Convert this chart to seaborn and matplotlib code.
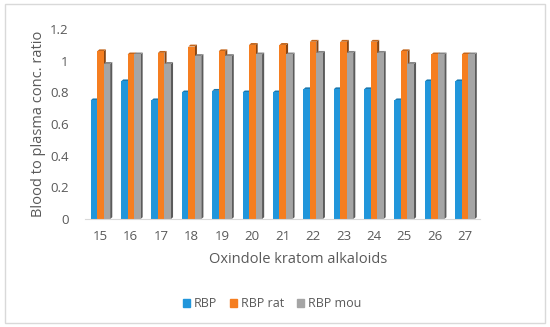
import numpy as np
import pandas as pd
import matplotlib
matplotlib.use("Agg")
import matplotlib.pyplot as plt
import matplotlib.colors as mcolors
from matplotlib.patches import Polygon
import seaborn as sns

# values
compounds = ["15", "16", "17", "18", "19", "20", "21", "22", "23", "24", "25", "26", "27"]
rbp = [0.75, 0.87, 0.75, 0.80, 0.81, 0.80, 0.80, 0.82, 0.82, 0.82, 0.75, 0.87, 0.87]
rbp_rat = [1.06, 1.04, 1.05, 1.09, 1.06, 1.10, 1.10, 1.12, 1.12, 1.12, 1.06, 1.04, 1.04]
rbp_mou = [0.98, 1.04, 0.98, 1.03, 1.03, 1.04, 1.04, 1.05, 1.05, 1.05, 0.98, 1.04, 1.04]
series = ["RBP", "RBP rat", "RBP mou"]
colors = ["#2196DB", "#F57E20", "#A5A5A5"]

df = pd.DataFrame({"compound": compounds * 3,
                   "series": np.repeat(series, len(compounds)),
                   "ratio": rbp + rbp_rat + rbp_mou})

sns.set_style("white")
plt.rcParams["font.family"] = ["Open Sans", "DejaVu Sans"]
txt = "#595959"

fig = plt.figure(figsize=(5.5, 3.27), dpi=100)
ax = fig.add_axes([0.155, 0.33, 0.718, 0.581])
sns.barplot(data=df, x="compound", y="ratio", hue="series", palette=colors,
            width=0.64, gap=0, ax=ax, legend=False, saturation=1, linewidth=0)

# fake 3D side faces like the Excel chart
depth_x = 0.07
depth_y = 0.012
for p in list(ax.patches):
    p.set_linewidth(0)
    x0, y0 = p.get_x(), p.get_y()
    w, h = p.get_width(), p.get_height()
    c = np.array(mcolors.to_rgb(p.get_facecolor()))
    side = Polygon([(x0 + w, y0), (x0 + w + depth_x, y0 + depth_y),
                    (x0 + w + depth_x, y0 + h + depth_y), (x0 + w, y0 + h)],
                   closed=True, facecolor=c * 0.55, edgecolor="none", zorder=p.get_zorder() - 0.1)
    top = Polygon([(x0, y0 + h), (x0 + w, y0 + h),
                   (x0 + w + depth_x, y0 + h + depth_y), (x0 + depth_x, y0 + h + depth_y)],
                  closed=True, facecolor=c * 0.8, edgecolor="none", zorder=p.get_zorder() - 0.1)
    ax.add_patch(side)
    ax.add_patch(top)

ax.set_ylim(0, 1.2)
ax.set_xlim(-0.5, len(compounds) - 0.5)
yt = [0, 0.2, 0.4, 0.6, 0.8, 1, 1.2]
ax.set_yticks(yt)
ax.set_yticklabels(["0", "0.2", "0.4", "0.6", "0.8", "1", "1.2"])
ax.tick_params(axis="both", length=0, labelsize=9.5, colors=txt, pad=8)
ax.tick_params(axis="y", pad=12)
for s in ["top", "right", "left"]:
    ax.spines[s].set_visible(False)
ax.spines["bottom"].set_color("#D9D9D9")
ax.set_xlabel("Oxindole kratom alkaloids", fontsize=10.5, color=txt)
ax.xaxis.set_label_coords(0.54, -0.175)
ax.set_ylabel("Blood to plasma conc. ratio", fontsize=10.5, color=txt, labelpad=3)

handles = [plt.Rectangle((0, 0), 1, 1, color=c) for c in colors]
fig.legend(handles, series, loc="center", bbox_to_anchor=(0.495, 0.072), ncol=3,
           frameon=False, fontsize=9, handlelength=0.6, handleheight=0.6,
           handletextpad=0.3, columnspacing=1.0, labelcolor=txt)

fig.patches.append(plt.Rectangle((0.009, 0.012), 0.982, 0.976, transform=fig.transFigure,
                                 fill=False, edgecolor="#D9D9D9", linewidth=1))
fig.savefig("out.png", dpi=100)
